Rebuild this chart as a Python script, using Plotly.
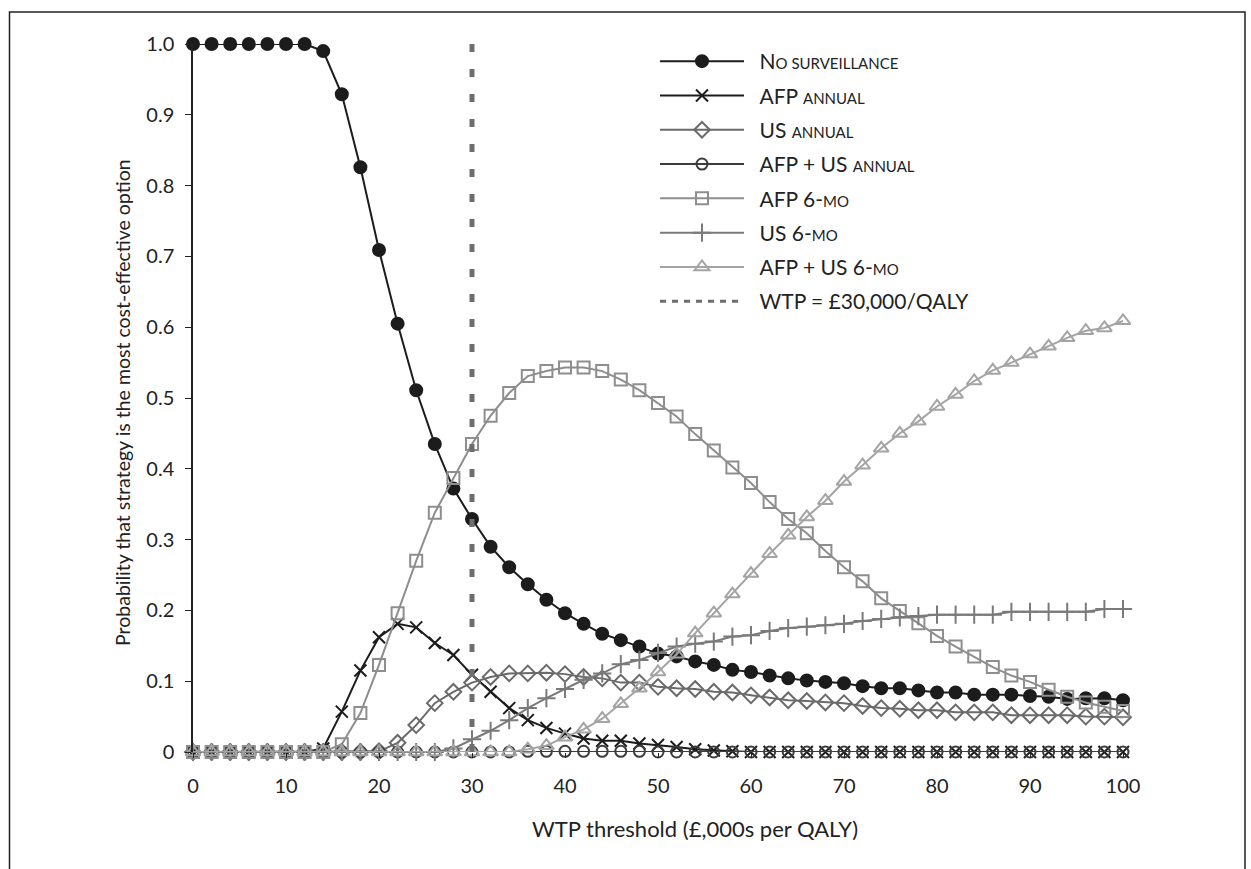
import plotly.graph_objects as go

wtp = [0, 2, 4, 6, 8, 10, 12, 14, 16, 18, 20, 22, 24, 26, 28, 30, 32, 34, 36, 38, 40,
       42, 44, 46, 48, 50, 52, 54, 56, 58, 60, 62, 64, 66, 68, 70, 72, 74, 76, 78, 80,
       82, 84, 86, 88, 90, 92, 94, 96, 98, 100]

no_surveillance = [1.0, 1.0, 1.0, 1.0, 1.0, 1.0, 1.0, 0.990, 0.929, 0.826, 0.709, 0.605,
                   0.511, 0.435, 0.372, 0.329, 0.290, 0.261, 0.237, 0.215, 0.196, 0.181,
                   0.167, 0.158, 0.149, 0.139, 0.135, 0.128, 0.123, 0.116, 0.113, 0.108,
                   0.104, 0.101, 0.099, 0.097, 0.093, 0.090, 0.090, 0.087, 0.084, 0.084,
                   0.081, 0.081, 0.081, 0.079, 0.078, 0.075, 0.076, 0.076, 0.073]

afp_annual = [0, 0, 0, 0, 0, 0, 0, 0.005, 0.057, 0.115, 0.162, 0.181, 0.176, 0.154,
              0.137, 0.109, 0.085, 0.062, 0.045, 0.034, 0.026, 0.019, 0.016, 0.016, 0.012,
              0.010, 0.007, 0.004, 0.002, 0.001, 0, 0, 0, 0, 0, 0, 0, 0, 0, 0, 0,
              0, 0, 0, 0, 0, 0, 0, 0, 0, 0]

us_annual = [0, 0, 0, 0, 0, 0, 0, 0, 0, 0, 0.001, 0.013, 0.038, 0.069, 0.085, 0.098,
             0.106, 0.111, 0.111, 0.112, 0.110, 0.106, 0.104, 0.098, 0.098, 0.092, 0.090,
             0.089, 0.085, 0.084, 0.080, 0.077, 0.073, 0.072, 0.070, 0.069, 0.065, 0.062,
             0.061, 0.059, 0.059, 0.056, 0.056, 0.056, 0.052, 0.052, 0.052, 0.052, 0.050,
             0.050, 0.049]

afp_us_annual = [0, 0, 0, 0, 0, 0, 0, 0, 0, 0, 0, 0, 0, 0, 0, 0, 0, 0, 0.001, 0.001,
                 0.001, 0.001, 0.001, 0.001, 0.001, 0, 0, 0, 0, 0, 0, 0, 0, 0, 0, 0,
                 0, 0, 0, 0, 0, 0, 0, 0, 0, 0, 0, 0, 0, 0, 0]

afp_6mo = [0, 0, 0, 0, 0, 0, 0, 0, 0.011, 0.055, 0.123, 0.196, 0.270, 0.338, 0.387,
           0.435, 0.475, 0.507, 0.531, 0.538, 0.543, 0.543, 0.538, 0.526, 0.511, 0.493,
           0.474, 0.449, 0.426, 0.402, 0.380, 0.353, 0.329, 0.309, 0.284, 0.261, 0.241,
           0.217, 0.199, 0.182, 0.164, 0.149, 0.135, 0.120, 0.108, 0.099, 0.088, 0.078,
           0.070, 0.064, 0.058]

us_6mo = [0, 0, 0, 0, 0, 0, 0, 0, 0, 0, 0, 0, 0, 0, 0.005, 0.018, 0.030, 0.045, 0.062,
          0.076, 0.089, 0.102, 0.111, 0.124, 0.130, 0.140, 0.149, 0.153, 0.156, 0.163,
          0.165, 0.171, 0.175, 0.177, 0.179, 0.181, 0.185, 0.188, 0.190, 0.192, 0.194,
          0.194, 0.194, 0.194, 0.198, 0.198, 0.198, 0.198, 0.198, 0.202, 0.202]

afp_us_6mo = [0, 0, 0, 0, 0, 0, 0, 0, 0, 0, 0, 0, 0, 0, 0, 0, 0, 0, 0.004, 0.009,
              0.021, 0.032, 0.047, 0.068, 0.090, 0.113, 0.138, 0.168, 0.196, 0.223, 0.252,
              0.280, 0.306, 0.332, 0.355, 0.382, 0.405, 0.429, 0.450, 0.467, 0.488, 0.505,
              0.524, 0.539, 0.550, 0.562, 0.573, 0.585, 0.595, 0.599, 0.609]

wtp_line_x = [30, 30]
wtp_line_y = [0, 1.0]

x_ticks = [0, 10, 20, 30, 40, 50, 60, 70, 80, 90, 100]
y_ticks = [0, 0.1, 0.2, 0.3, 0.4, 0.5, 0.6, 0.7, 0.8, 0.9, 1.0]
y_ticktext = ["0", "0.1", "0.2", "0.3", "0.4", "0.5", "0.6", "0.7", "0.8", "0.9", "1.0"]

SC = "<span style='font-size:15px'>{}</span>"
PAD = "\u2002"
names = [
    PAD + "N" + SC.format("O SURVEILLANCE"),
    PAD + "AFP " + SC.format("ANNUAL"),
    PAD + "US " + SC.format("ANNUAL"),
    PAD + "AFP + US " + SC.format("ANNUAL"),
    PAD + "AFP 6-" + SC.format("MO"),
    PAD + "US 6-" + SC.format("MO"),
    PAD + "AFP + US 6-" + SC.format("MO"),
    PAD + "WTP = £30,000/QALY",
]

FONT = "Lato, 'Open Sans', sans-serif"
W, H = 1251, 869
L, R, T, B = 193, 1123, 44, 752

fig = go.Figure()

series = [
    (no_surveillance, "circle", "#1c1c1c", 12),
    (afp_annual, "x-thin", "#1c1c1c", 12),
    (us_annual, "diamond-open", "#6a6a6a", 12),
    (afp_us_annual, "circle-open", "#3c3c3c", 11),
    (afp_6mo, "square-open", "#8e8e8e", 12),
    (us_6mo, "cross-thin", "#7a7a7a", 13),
    (afp_us_6mo, "triangle-up-open", "#a4a4a4", 13),
]

for i, (ys, sym, col, ms) in enumerate(series):
    fig.add_trace(go.Scatter(
        x=wtp, y=ys, name=names[i], mode="lines+markers",
        line=dict(color=col, width=2),
        marker=dict(symbol=sym, size=ms, color=col, line=dict(color=col, width=2)),
        cliponaxis=False, legendgroup=f"g{i}",
    ))

# WTP threshold line (plot) and its legend entry
fig.add_trace(go.Scatter(
    x=wtp_line_x, y=wtp_line_y, name=names[7], mode="lines",
    line=dict(color="#6e6e6e", width=5, dash="8px,17px"),
    cliponaxis=False, showlegend=False, legendgroup="g7",
))
fig.add_trace(go.Scatter(
    x=[None], y=[None], name=names[7], mode="lines",
    line=dict(color="#6e6e6e", width=3, dash="6px,6px"),
    legendgroup="g7",
))

def px_x(px):
    return (px - L) / (R - L)

def px_y(py):
    return (B - py) / (B - T)

fig.update_layout(
    width=W, height=H,
    margin=dict(l=L, r=W - R, t=T, b=H - B, pad=0),
    paper_bgcolor="white", plot_bgcolor="white",
    font=dict(family=FONT, size=20, color="#222222"),
    showlegend=True,
    legend=dict(
        x=px_x(655), y=px_y(41), xanchor="left", yanchor="top",
        bgcolor="rgba(0,0,0,0)", borderwidth=0,
        itemwidth=84, traceorder="grouped", tracegroupgap=4,
        font=dict(family=FONT, size=21, color="#222222"),
    ),
    xaxis=dict(
        range=[0, 100], showgrid=False, zeroline=False, showline=False,
        tickmode="array", tickvals=x_ticks, ticks="outside", ticklen=5,
        tickcolor="#222222", ticklabelstandoff=11,
    ),
    yaxis=dict(
        range=[0, 1.0], showgrid=False, zeroline=False, showline=True,
        linecolor="#222222", linewidth=1.5,
        tickmode="array", tickvals=y_ticks, ticktext=y_ticktext,
        ticks="outside", ticklen=6, tickcolor="#222222", ticklabelstandoff=7,
    ),
    annotations=[
        dict(text="WTP threshold (£,000s per QALY)", xref="paper", yref="paper",
             x=px_x(695), y=px_y(828), xanchor="center", yanchor="middle",
             showarrow=False, font=dict(family=FONT, size=22, color="#222222")),
        dict(text="Probability that strategy is the most cost-effective option",
             xref="paper", yref="paper", textangle=-90,
             x=px_x(122), y=px_y(403), xanchor="center", yanchor="middle",
             showarrow=False, font=dict(family=FONT, size=19.5, color="#222222")),
    ],
    shapes=[
        dict(type="rect", xref="paper", yref="paper",
             x0=px_x(9.5), x1=px_x(1245), y0=px_y(880), y1=px_y(12),
             line=dict(color="#222222", width=1.5), fillcolor="rgba(0,0,0,0)",
             layer="below"),
    ],
)

fig.write_html("out.html")
